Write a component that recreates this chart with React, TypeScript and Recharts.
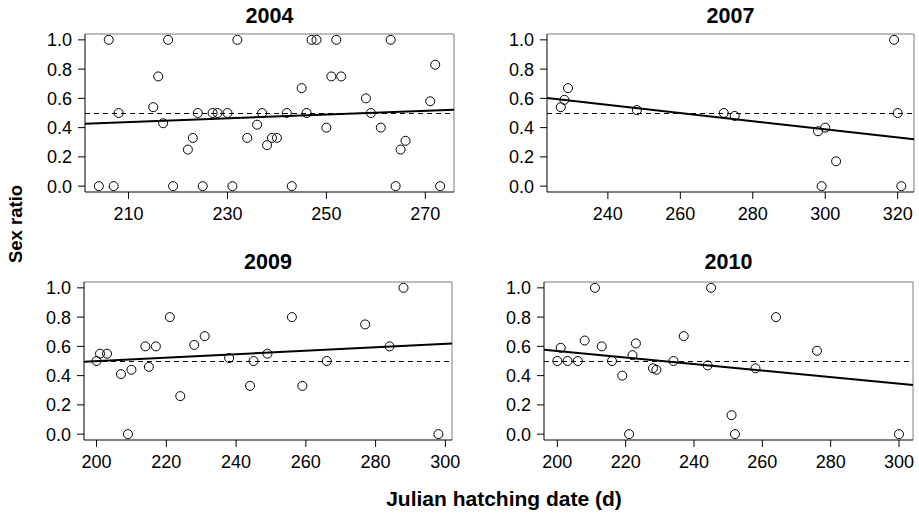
import { ScatterChart, Scatter, XAxis, YAxis, ReferenceLine } from "recharts";

// sex ratio vs julian hatching date, one panel per year
const date2004 = [204, 206, 207, 208, 215, 216, 217, 218, 219, 222, 223, 224, 225, 227, 228, 230, 231, 232, 234, 236, 237, 238, 239, 240, 242, 243, 245, 246, 247, 248, 250, 251, 252, 253, 258, 259, 261, 263, 264, 265, 266, 271, 272, 273];
const ratio2004 = [0, 1, 0, 0.5, 0.54, 0.75, 0.43, 1, 0, 0.25, 0.33, 0.5, 0, 0.5, 0.5, 0.5, 0, 1, 0.33, 0.42, 0.5, 0.28, 0.33, 0.33, 0.5, 0, 0.67, 0.5, 1, 1, 0.4, 0.75, 1, 0.75, 0.6, 0.5, 0.4, 1, 0, 0.25, 0.31, 0.58, 0.83, 0];
const fitDate2004 = [201.2, 275.8];
const fitRatio2004 = [0.427, 0.523];

const date2007 = [227, 228, 229, 248, 272, 275, 298, 299, 300, 303, 319, 320, 321];
const ratio2007 = [0.54, 0.59, 0.67, 0.52, 0.5, 0.48, 0.375, 0, 0.4, 0.17, 1, 0.5, 0];
const fitDate2007 = [223.2, 324.5];
const fitRatio2007 = [0.603, 0.32];

const date2009 = [200, 201, 203, 207, 209, 210, 214, 215, 217, 221, 224, 228, 231, 238, 244, 245, 249, 256, 259, 266, 277, 284, 288, 298];
const ratio2009 = [0.5, 0.55, 0.55, 0.41, 0, 0.44, 0.6, 0.46, 0.6, 0.8, 0.26, 0.61, 0.67, 0.52, 0.33, 0.5, 0.55, 0.8, 0.33, 0.5, 0.75, 0.6, 1, 0];
const fitDate2009 = [196.4, 301.9];
const fitRatio2009 = [0.495, 0.62];

const date2010 = [200, 201, 203, 206, 208, 211, 213, 216, 219, 221, 222, 223, 228, 229, 234, 237, 244, 245, 251, 252, 258, 264, 276, 300];
const ratio2010 = [0.5, 0.59, 0.5, 0.5, 0.64, 1, 0.6, 0.5, 0.4, 0, 0.54, 0.62, 0.45, 0.44, 0.5, 0.67, 0.47, 1, 0.13, 0, 0.45, 0.8, 0.57, 0];
const fitDate2010 = [196.1, 304.1];
const fitRatio2010 = [0.577, 0.336];

const ticks2004 = [210, 230, 250, 270];
const ticks2007 = [240, 260, 280, 300, 320];
const ticksLate = [200, 220, 240, 260, 280, 300];
const ratioTicks = [0, 0.2, 0.4, 0.6, 0.8, 1];
const ratioRange = [-0.04, 1.04];

const font = "'Liberation Sans', Arial, Helvetica, sans-serif";
const zip = (xs: number[], ys: number[]) => xs.map((x, i) => ({ x, y: ys[i] }));

function Ring(props: any) {
  return <circle cx={props.cx} cy={props.cy} r={4.5} fill="none" stroke="#000" strokeWidth={1} />;
}

function Panel({ left, top, plotW, plotH, domain, ticks, points, fit }: any) {
  const W = 60 + plotW + 22;
  const H = 4 + plotH + 40;
  return (
    <div style={{ position: "absolute", left: left - 60, top: top - 4 }}>
      <ScatterChart width={W} height={H} margin={{ top: 4, right: 22, bottom: 0, left: 0 }}>
        <XAxis
          xAxisId="b"
          type="number"
          dataKey="x"
          domain={domain}
          ticks={ticks}
          interval={0}
          allowDataOverflow
          height={40}
          tickSize={7}
          tickMargin={8}
          stroke="#000"
          tick={{ fill: "#000", fontSize: 18, fontFamily: font }}
        />
        <YAxis
          yAxisId="l"
          type="number"
          dataKey="y"
          domain={ratioRange}
          ticks={ratioTicks}
          interval={0}
          allowDataOverflow
          width={60}
          tickSize={7}
          tickMargin={6}
          tickFormatter={(v: number) => v.toFixed(1)}
          stroke="#000"
          tick={{ fill: "#000", fontSize: 18, fontFamily: font }}
        />
        {/* grey top and right edges of the box */}
        <ReferenceLine xAxisId="b" yAxisId="l" y={ratioRange[1]} stroke="#7a7a7a" ifOverflow="visible" />
        <ReferenceLine xAxisId="b" yAxisId="l" x={domain[1]} stroke="#7a7a7a" ifOverflow="visible" />
        <ReferenceLine
          xAxisId="b"
          yAxisId="l"
          y={0.5}
          stroke="#000"
          strokeWidth={1}
          strokeDasharray="5 4"
          shapeRendering="crispEdges"
        />
        <ReferenceLine xAxisId="b" yAxisId="l" segment={fit} stroke="#000" strokeWidth={2} />
        <Scatter xAxisId="b" yAxisId="l" data={points} shape={Ring} isAnimationActive={false} />
      </ScatterChart>
    </div>
  );
}

export default function App() {
  return (
    <div style={{ position: "absolute", left: 0, top: 0, width: 919, height: 517, background: "#fff" }}>
      <svg width={919} height={517} style={{ position: "absolute", left: 0, top: 0 }}>
        <g fontFamily={font} fontWeight="bold" fill="#000" textAnchor="middle">
          <text x={269.5} y={23.3} fontSize={21.5}>2004</text>
          <text x={730.5} y={23.3} fontSize={21.5}>2007</text>
          <text x={268} y={269} fontSize={21.5}>2009</text>
          <text x={728.5} y={269} fontSize={21.5}>2010</text>
          <text x={504} y={506} fontSize={21}>Julian hatching date (d)</text>
          <text x={22} y={224} fontSize={18.5} transform="rotate(-90 22 224)">Sex ratio</text>
        </g>
      </svg>

      <Panel left={85} top={34} plotW={369} plotH={158} domain={fitDate2004} ticks={ticks2004}
        points={zip(date2004, ratio2004)} fit={zip(fitDate2004, fitRatio2004)} />
      <Panel left={547} top={34} plotW={367} plotH={158} domain={fitDate2007} ticks={ticks2007}
        points={zip(date2007, ratio2007)} fit={zip(fitDate2007, fitRatio2007)} />
      <Panel left={84} top={282} plotW={368} plotH={158} domain={fitDate2009} ticks={ticksLate}
        points={zip(date2009, ratio2009)} fit={zip(fitDate2009, fitRatio2009)} />
      <Panel left={544} top={282} plotW={369} plotH={158} domain={fitDate2010} ticks={ticksLate}
        points={zip(date2010, ratio2010)} fit={zip(fitDate2010, fitRatio2010)} />
    </div>
  );
}
